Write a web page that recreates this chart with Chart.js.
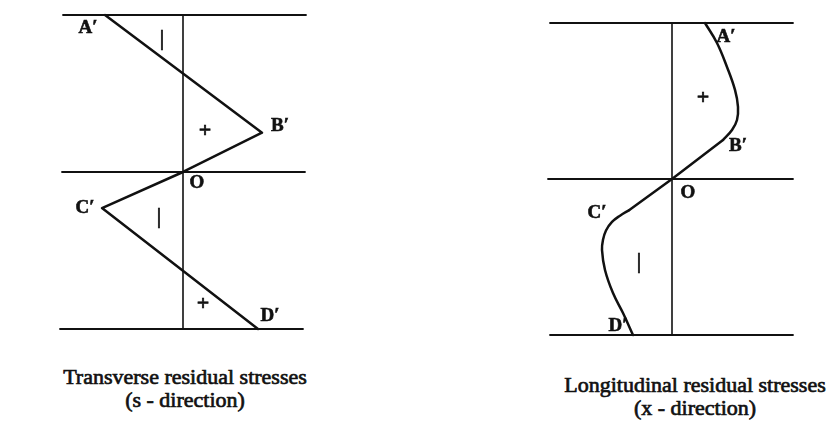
<!DOCTYPE html>
<html>
<head>
<meta charset="utf-8">
<script src="https://cdn.jsdelivr.net/npm/chart.js@4"></script>
<style>
  html, body { margin: 0; padding: 0; background: #fff; }
  body { width: 838px; height: 440px; position: relative; overflow: hidden; }
  .plot { position: absolute; top: 0; }
  #leftPlot { left: 40px; }
  #rightPlot { left: 530px; }
  .caption {
    position: absolute; width: 340px; text-align: center;
    font-family: "Liberation Serif", "Times New Roman", serif;
    font-size: 22px; line-height: 23px; color: #111;
    -webkit-text-stroke: 0.7px #111;
  }
  #leftCap { left: 15px; top: 365px; }
  #rightCap { left: 525px; top: 373px; }
</style>
</head>
<body>
<canvas id="leftPlot" class="plot" width="290" height="345"></canvas>
<canvas id="rightPlot" class="plot" width="290" height="345"></canvas>
<div id="leftCap" class="caption">Transverse residual stresses<br>(s - direction)</div>
<div id="rightCap" class="caption">Longitudinal residual stresses<br>(x - direction)</div>
<script>
// stress (x) against position through the thickness (y, +1 top face, -1 bottom face)
var transverseStress = [-0.78, 0.79, 0, -0.81, 0.75];
var transverseDepth  = [1.0, 0.25, 0, -0.23, -1.0];

var longUpperStress = [0.33, 0.45, 0.55, 0.63, 0.66, 0.65, 0.60, 0.51];
var longUpperDepth  = [1.0, 0.872, 0.718, 0.571, 0.462, 0.378, 0.314, 0.25];
var longMidStress = [0.51, 0, -0.43];
var longMidDepth  = [0.25, 0, -0.20];
var longLowerStress = [-0.43, -0.52, -0.60, -0.66, -0.69, -0.70, -0.67, -0.59, -0.49, -0.39];
var longLowerDepth  = [-0.20, -0.235, -0.275, -0.33, -0.39, -0.455, -0.583, -0.731, -0.859, -1.0];

// reference lines: faces and mid-plane, plus the zero-stress axis
var leftFaceExtent  = [[-1.20, 1.23], [-1.21, 1.22], [-1.23, 1.20]];
var rightFaceExtent = [[-1.22, 1.21], [-1.24, 1.21], [-1.22, 1.21]];
var faceLevels = [1, 0, -1];

var leftLabels = [
  { t: 'A\u2032', s: -0.95, z: 0.915, bold: true },
  { t: '|', s: -0.21, z: 0.84 },
  { t: '+', s: 0.22, z: 0.26 },
  { t: 'B\u2032', s: 0.97, z: 0.29, bold: true },
  { t: 'O', s: 0.14, z: -0.07, bold: true },
  { t: 'C\u2032', s: -0.98, z: -0.23, bold: true },
  { t: '|', s: -0.24, z: -0.29 },
  { t: '+', s: 0.20, z: -0.84 },
  { t: 'D\u2032', s: 0.87, z: -0.92, bold: true }
];
var rightLabels = [
  { t: 'A\u2032', s: 0.54, z: 0.91, bold: true },
  { t: '+', s: 0.31, z: 0.52 },
  { t: 'B\u2032', s: 0.66, z: 0.21, bold: true },
  { t: 'O', s: 0.16, z: -0.09, bold: true },
  { t: 'C\u2032', s: -0.75, z: -0.22, bold: true },
  { t: '|', s: -0.33, z: -0.54 },
  { t: 'D\u2032', s: -0.54, z: -0.94, bold: true }
];

var INK = '#111';

function toPoints(xs, ys) {
  return xs.map(function (x, i) { return { x: x, y: ys[i] }; });
}

function lineSet(points, width, tension) {
  return {
    data: points, showLine: true, pointRadius: 0, borderColor: INK,
    borderWidth: width, tension: tension || 0, borderCapStyle: 'round',
    borderJoinStyle: 'round'
  };
}

function frameSets(extents) {
  var sets = faceLevels.map(function (lvl, i) {
    return lineSet([{ x: extents[i][0], y: lvl }, { x: extents[i][1], y: lvl }], 1.8);
  });
  sets.push(lineSet([{ x: 0, y: 1 }, { x: 0, y: -1 }], 1.6));
  return sets;
}

var labelPlugin = {
  id: 'markLabels',
  afterDatasetsDraw: function (chart, args, opts) {
    var ctx = chart.ctx;
    var xs = chart.scales.x, ys = chart.scales.y;
    ctx.save();
    ctx.fillStyle = INK;
    ctx.strokeStyle = INK;
    ctx.lineWidth = 0.6;
    ctx.textAlign = 'center';
    ctx.textBaseline = 'middle';
    (opts.items || []).forEach(function (it) {
      ctx.font = it.bold ? 'bold 19px "Liberation Serif", serif'
                         : (it.t === '|' ? 'bold 20px "Liberation Serif", serif' : 'bold 22px "Liberation Serif", serif');
      var px = xs.getPixelForValue(it.s), py = ys.getPixelForValue(it.z);
      ctx.fillText(it.t, px, py);
      ctx.strokeText(it.t, px, py);
    });
    ctx.restore();
  }
};

function makeDiagram(id, datasets, labels, xr, yr) {
  return new Chart(document.getElementById(id), {
    type: 'scatter',
    data: { datasets: datasets },
    options: {
      responsive: false, animation: false, devicePixelRatio: 1,
      layout: { padding: 0 },
      scales: {
        x: { type: 'linear', display: false, min: xr[0], max: xr[1] },
        y: { type: 'linear', display: false, min: yr[0], max: yr[1] }
      },
      plugins: { legend: { display: false }, tooltip: { enabled: false }, markLabels: { items: labels } }
    },
    plugins: [labelPlugin]
  });
}

makeDiagram('leftPlot',
  frameSets(leftFaceExtent).concat([lineSet(toPoints(transverseStress, transverseDepth), 2.5)]),
  leftLabels, [-1.43, 1.47], [-1.102, 1.0955]);

makeDiagram('rightPlot',
  frameSets(rightFaceExtent).concat([
    lineSet(toPoints(longUpperStress, longUpperDepth), 2.5, 0.4),
    lineSet(toPoints(longMidStress, longMidDepth), 2.5, 0),
    lineSet(toPoints(longLowerStress, longLowerDepth), 2.5, 0.4)
  ]),
  rightLabels, [-1.42, 1.48], [-1.064, 1.1474]);
</script>
</body>
</html>
